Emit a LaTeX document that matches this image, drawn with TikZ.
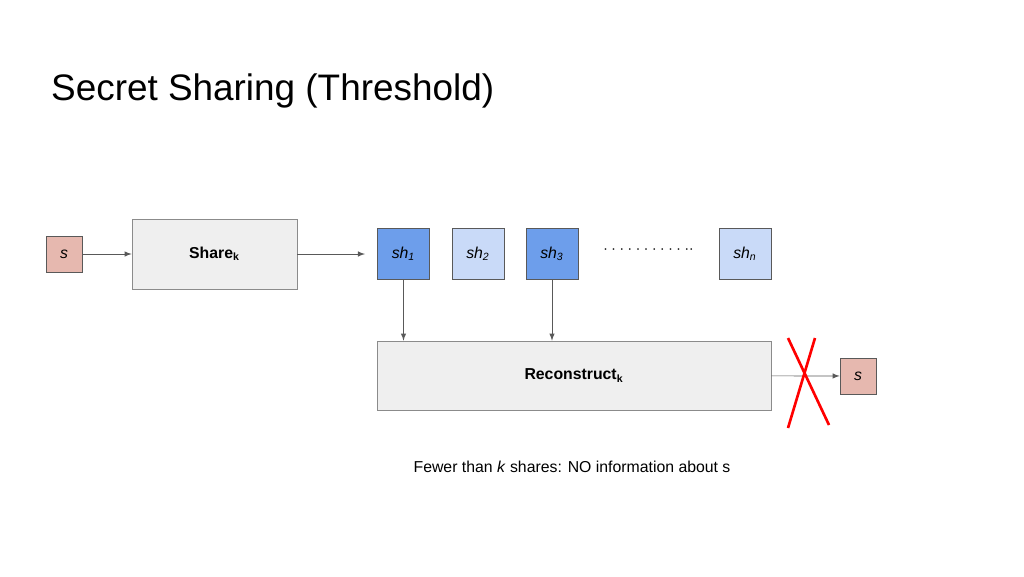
\documentclass[tikz,border=0pt]{standalone}
\usepackage{fontspec}
\setmainfont{Liberation Sans}
\usetikzlibrary{positioning}
\definecolor{boxgray}{HTML}{EFEFEF}
\definecolor{secret}{HTML}{E6B8AF}
\definecolor{shdark}{HTML}{6D9EEB}
\definecolor{shlight}{HTML}{C9DAF8}
\definecolor{linegray}{HTML}{595959}

\begin{document}
\begin{tikzpicture}[x=0.02cm,y=-0.02cm,>=latex,
    box/.style={draw=linegray!70,fill=boxgray,inner sep=0pt},
    sec/.style={draw=linegray,fill=secret,minimum width=0.72cm,minimum height=0.72cm,inner sep=0pt,font=\itshape\small},
    share/.style={draw=linegray,minimum width=1.04cm,minimum height=1.02cm,inner sep=0pt,font=\itshape\small},
    conn/.style={->,draw=linegray}]
    \useasboundingbox (0,0) rectangle (1024,576);
    \node[anchor=base west,font=\fontsize{21}{24}\selectfont] (title) at (45,100) {Secret Sharing (Threshold)};

    \node[sec]                              (s)    at (64,254)  {s};
    \node[box,minimum width=3.3cm,minimum height=1.4cm,font=\small\bfseries] (share) at (214.5,254) {Share\textsubscript{k}};
    \node[share,fill=shdark]                (sh1)  at (403.5,254) {sh\textsubscript{1}};
    \node[share,fill=shlight]               (sh2)  at (478,254)   {sh\textsubscript{2}};
    \node[share,fill=shdark]                (sh3)  at (552,254)   {sh\textsubscript{3}};
    \node[share,fill=shlight]               (shn)  at (745,254)   {sh\textsubscript{n}};
    \node[font=\small]                      (dots) at (648.5,250) {$\cdot\cdot\cdot\cdot\cdot\cdot\cdot\cdot\cdot\cdot\cdot\cdot$};
    \node[box,minimum width=7.88cm,minimum height=1.38cm,font=\small\bfseries] (rec) at (574,375.5) {Reconstruct\textsubscript{k}};
    \node[sec]                              (out)  at (858,376) {s};
    \node[anchor=base,font=\small]          (note) at (572,472) {Fewer than \textit{k} shares: NO information about s};

    \coordinate (into) at (365,254);
    \draw[conn] (s) -- (share);
    \draw[conn] (share) -- (into);
    \draw[conn] (sh1) -- (sh1 |- rec.north);
    \draw[conn] (sh3) -- (sh3 |- rec.north);
    \draw[conn] (rec) -- (out);

    \coordinate (xa) at (788,338);
    \coordinate (xb) at (829,425);
    \coordinate (xc) at (815,338);
    \coordinate (xd) at (788,428);
    \draw[red,line width=1.5pt] (xa) -- (xb);
    \draw[red,line width=1.5pt] (xc) -- (xd);
\end{tikzpicture}
\end{document}
